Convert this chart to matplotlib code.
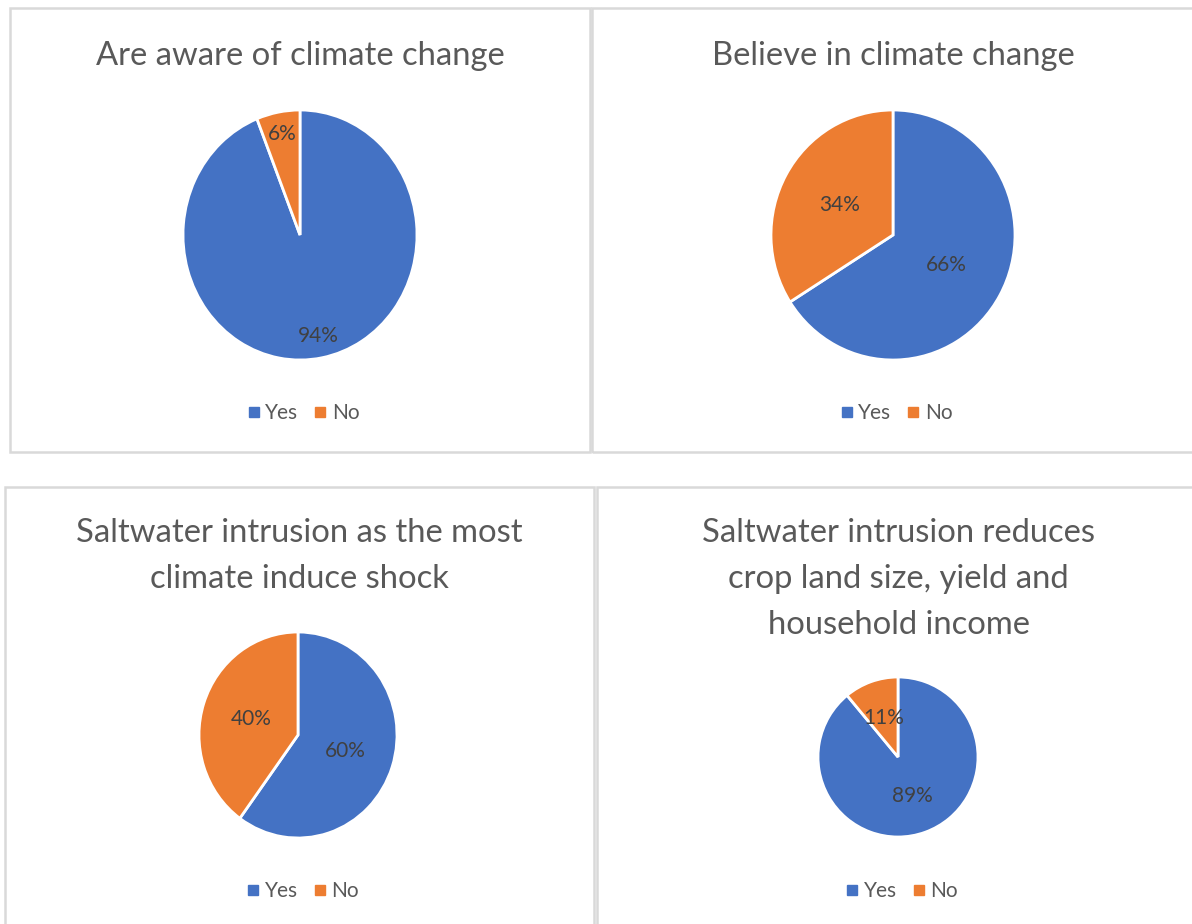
import matplotlib
matplotlib.use('Agg')
import matplotlib.pyplot as plt
import matplotlib.patches as mpatches
from matplotlib.lines import Line2D

# ── data ─────────────────────────────────────────────────────────────────────
CATEGORIES = ['Yes', 'No']
TITLES = [
    'Are aware of climate change',
    'Believe in climate change',
    'Saltwater intrusion as the most\nclimate induce shock',
    'Saltwater intrusion reduces\ncrop land size, yield and\nhousehold income',
]
YES_SHARE = [94, 66, 60, 89]
NO_SHARE = [6, 34, 40, 11]

# ── style ────────────────────────────────────────────────────────────────────
W, H = 1192, 924
COLORS = ['#4472C4', '#ED7D31']
TITLE_COLOR = '#595959'
LABEL_COLOR = '#404040'
BORDER_COLOR = '#D9D9D9'
plt.rcParams['font.family'] = ['Lato', 'DejaVu Sans']

# panel boxes (left, top, right, bottom) in pixels
PANELS = [(10, 8, 590, 452), (592, 8, 1194, 452),
          (5, 487, 594, 930), (597, 487, 1200, 930)]
# pie centre and radii (cx, cy, rx, ry) in pixels
PIES = [(300, 235, 117, 125), (893, 235, 122, 125),
        (298, 735, 99, 103), (898, 757, 80, 80)]
TITLE_Y = [56, 56, 533, 533]
LEGEND_Y = [413, 413, 891, 891]
PCT_DIST = [0.82, 0.5, 0.5, 0.52]
LINE_GAP = 46


def fx(px):
    return px / W


def fy(py):
    return 1 - py / H


fig = plt.figure(figsize=(W / 100, H / 100), dpi=100)

for i in range(4):
    l, t, r, b = PANELS[i]
    fig.patches.append(mpatches.Rectangle(
        (fx(l), fy(b)), fx(r - l), (b - t) / H, transform=fig.transFigure,
        fill=False, edgecolor=BORDER_COLOR, linewidth=1.8))

    cx, cy, rx, ry = PIES[i]
    ax = fig.add_axes([fx(cx - rx), fy(cy + ry), 2 * rx / W, 2 * ry / H])
    ax.pie([YES_SHARE[i], NO_SHARE[i]], colors=COLORS, startangle=90,
           counterclock=False, autopct='%d%%', pctdistance=PCT_DIST[i],
           wedgeprops=dict(edgecolor='white', linewidth=2),
           textprops=dict(color=LABEL_COLOR, fontsize=15))
    ax.set_aspect('auto')
    ax.set_xlim(-1, 1)
    ax.set_ylim(-1, 1)
    ax.axis('off')

    lines = TITLES[i].split('\n')
    for k, line in enumerate(lines):
        fig.text(fx((l + r) / 2), fy(TITLE_Y[i] + k * LINE_GAP), line,
                 ha='center', va='center', fontsize=23.6, color=TITLE_COLOR)

    handles = [Line2D([], [], marker='s', linestyle='none', markersize=6.5,
                      markerfacecolor=c, markeredgecolor=c) for c in COLORS]
    fig.legend(handles, CATEGORIES, loc='center',
               bbox_to_anchor=(fx((l + r) / 2 + 4), fy(LEGEND_Y[i])),
               ncol=2, frameon=False, fontsize=15, labelcolor=TITLE_COLOR,
               handlelength=0.5, handletextpad=0.3, columnspacing=0.8,
               borderpad=0)

fig.savefig('out.png', dpi=100, facecolor='white')
